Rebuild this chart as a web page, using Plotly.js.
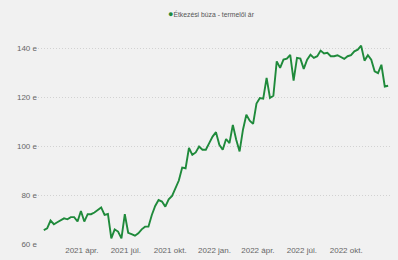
<!DOCTYPE html>
<html>
<head>
<meta charset="utf-8">
<script src="https://cdn.plot.ly/plotly-3.0.1.min.js"></script>
<style>html,body{margin:0;padding:0;background:#f1f1f1;}#chart{width:398px;height:260px;}</style>
</head>
<body>
<div id="chart"></div>
<script>
const seriesName = "Étkezési búza - termelői ár";
const dates = [
"2021-01-12","2021-01-19","2021-01-26","2021-02-02","2021-02-09","2021-02-16","2021-02-23","2021-03-02","2021-03-09","2021-03-16",
"2021-03-23","2021-03-30","2021-04-06","2021-04-13","2021-04-20","2021-04-27","2021-05-04","2021-05-11","2021-05-18","2021-05-25",
"2021-06-01","2021-06-08","2021-06-15","2021-06-22","2021-06-29","2021-07-06","2021-07-13","2021-07-20","2021-07-27","2021-08-03",
"2021-08-10","2021-08-17","2021-08-24","2021-08-31","2021-09-07","2021-09-14","2021-09-21","2021-09-28","2021-10-05","2021-10-12",
"2021-10-19","2021-10-26","2021-11-02","2021-11-09","2021-11-16","2021-11-23","2021-11-30","2021-12-07","2021-12-14","2021-12-21",
"2021-12-28","2022-01-04","2022-01-11","2022-01-18","2022-01-25","2022-02-01","2022-02-08","2022-02-15","2022-02-22","2022-03-01",
"2022-03-08","2022-03-15","2022-03-22","2022-03-29","2022-04-05","2022-04-12","2022-04-19","2022-04-26","2022-05-03","2022-05-10",
"2022-05-17","2022-05-24","2022-05-31","2022-06-07","2022-06-14","2022-06-21","2022-06-28","2022-07-05","2022-07-12","2022-07-19",
"2022-07-26","2022-08-02","2022-08-09","2022-08-16","2022-08-23","2022-08-30","2022-09-06","2022-09-13","2022-09-20","2022-09-27",
"2022-10-04","2022-10-11","2022-10-18","2022-10-25","2022-11-01","2022-11-08","2022-11-15","2022-11-22","2022-11-29","2022-12-06",
"2022-12-13","2022-12-20","2022-12-27"
];
const prices = [
65.7,66.4,69.6,68.1,68.9,69.6,70.5,70.1,71,71,
69.2,73.5,69.2,72.2,72.2,72.9,74,75,71.9,72.3,
62.3,66,65.1,62.3,72.2,64.6,64,63.4,64.4,66,
67.1,67.1,71.9,75.6,78,77.4,75.3,78.3,79.7,82.8,
86,91.3,91,99.3,96.5,97.5,99.9,98.6,98.6,101.3,
104,105.8,100.6,98.6,103,101.3,108.8,102.7,97.9,106.8,
112.9,110.5,109.2,117.5,119.8,119.5,128,119.8,120.7,134.8,
132.1,135.5,135.9,137.5,126.9,136.2,135.9,131.7,135.5,137.5,
136.2,136.9,139.2,138,138.3,136.9,136.9,137.3,136.5,135.8,
136.9,137.3,138.9,139.6,141.2,135.1,137.3,135.5,130.7,130,
133.4,124.5,124.8
];
const xTickVals = ["2021-04-01","2021-07-01","2021-10-01","2022-01-01","2022-04-01","2022-07-01","2022-10-01"];
const xTickText = ["2021 ápr.","2021 júl.","2021 okt.","2022 jan.","2022 ápr.","2022 júl.","2022 okt."];
const yTickVals = [60,80,100,120,140];
const yTickText = ["60 e","80 e","100 e","120 e","140 e"];

const green = "#1f8a3b";
const traces = [
  {x: dates, y: prices, type: "scatter", mode: "lines", name: seriesName,
   line: {color: green, width: 1.9}, showlegend: false, hoverinfo: "skip"}
];
const layout = {
  width: 398, height: 260,
  paper_bgcolor: "#f1f1f1", plot_bgcolor: "#f1f1f1",
  margin: {l: 38, r: 6, t: 34, b: 16},
  font: {family: "Liberation Sans, Arial, sans-serif", color: "#666", size: 8},
  showlegend: false,
  annotations: [{
    xref: "paper", yref: "paper", x: (166 - 38) / 354, y: 1 + (34 - 14) / 210,
    xanchor: "left", yanchor: "middle", showarrow: false,
    text: '<span style="color:' + green + ';font-size:9px">●</span>' + seriesName,
    font: {size: 6.8, color: "#555"}
  }],
  xaxis: {type: "date", range: ["2020-12-31", "2023-01-04"], tickmode: "array",
          tickvals: xTickVals, ticktext: xTickText, showgrid: false, zeroline: false,
          showline: false, ticks: "", tickfont: {size: 8, color: "#666"}},
  yaxis: {range: [60, 146], tickmode: "array", tickvals: yTickVals, ticktext: yTickText,
          showgrid: true, gridcolor: "#d2d2d2", griddash: "1px,2px", gridwidth: 1,
          zeroline: false, showline: false, ticks: "", tickfont: {size: 8, color: "#666"}}
};
Plotly.newPlot("chart", traces, layout, {displayModeBar: false, staticPlot: true});
</script>
</body>
</html>
